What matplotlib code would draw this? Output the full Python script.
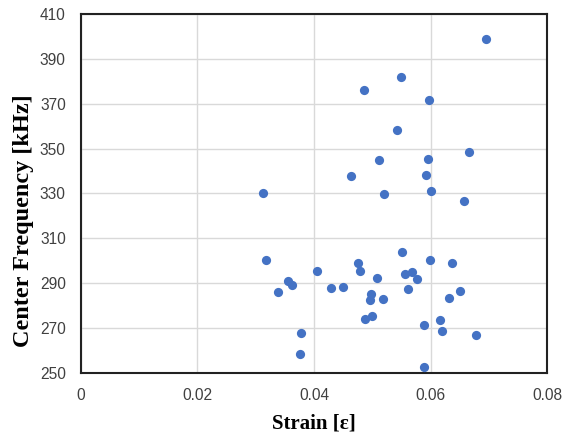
import matplotlib
matplotlib.use("Agg")
import matplotlib.pyplot as plt

strain = [0.0695, 0.0549, 0.0485, 0.0597, 0.0542, 0.0666, 0.0512, 0.0596, 0.0464, 0.0592,
          0.0520, 0.0601, 0.0658, 0.0312, 0.0551, 0.0475, 0.0599, 0.0637, 0.0405, 0.0479,
          0.0557, 0.0568, 0.0509, 0.0577, 0.0355, 0.0363, 0.0339, 0.0318, 0.0429, 0.0449,
          0.0561, 0.0651, 0.0497, 0.0496, 0.0518, 0.0632, 0.0499, 0.0488, 0.0616, 0.0588,
          0.0620, 0.0678, 0.0377, 0.0376, 0.0589]
freq = [399.0, 381.8, 376.0, 371.8, 358.3, 348.5, 344.8, 345.5, 337.8, 338.1,
        329.9, 331.2, 326.8, 330.2, 304.1, 299.2, 300.2, 299.2, 295.5, 295.5,
        294.1, 295.1, 292.3, 292.0, 290.9, 289.4, 286.1, 300.5, 288.0, 288.3,
        287.6, 286.4, 285.1, 282.4, 282.8, 283.4, 275.3, 274.1, 273.8, 271.4,
        268.8, 267.1, 267.7, 258.5, 252.8]
xticks = [0, 0.02, 0.04, 0.06, 0.08]
xticklabels = ["0", "0.02", "0.04", "0.06", "0.08"]
yticks = [250, 270, 290, 310, 330, 350, 370, 390, 410]

fig = plt.figure(figsize=(5.72, 4.37), dpi=100)
ax = fig.add_axes([0.1416, 0.1465, 0.8147, 0.8215])
ax.scatter(strain, freq, s=44, color="#4472C4", zorder=3, linewidths=0)
ax.set_xlim(0, 0.08)
ax.set_ylim(250, 410)
ax.set_xticks(xticks)
ax.set_xticklabels(xticklabels)
ax.set_yticks(yticks)
ax.grid(True, color="#d9d9d9", linewidth=1.0)
ax.set_axisbelow(True)
for s in ax.spines.values():
    s.set_color("#222222")
    s.set_linewidth(1.5)
ax.tick_params(length=0, pad=11, labelsize=11.2, labelcolor="#404040")
for lab in ax.get_xticklabels() + ax.get_yticklabels():
    lab.set_fontfamily("Liberation Sans")
ax.set_xlabel("Strain [ε]", fontfamily="Liberation Serif", fontweight="bold", fontsize=15, va="center")
ax.set_ylabel("Center Frequency [kHz]", fontfamily="Liberation Serif", fontweight="bold", fontsize=17.5, va="center")
ax.xaxis.set_label_coords(0.5, -0.142)
ax.yaxis.set_label_coords(-0.124, 0.423)
fig.savefig("out.png", dpi=100)
